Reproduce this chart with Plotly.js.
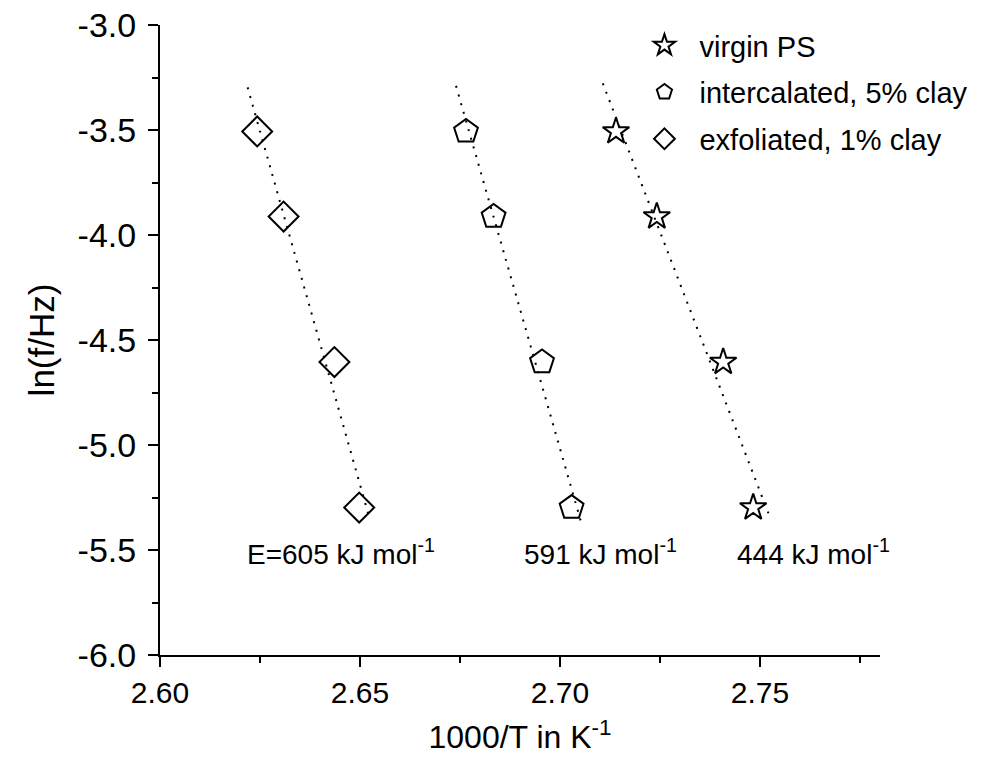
<!DOCTYPE html>
<html>
<head>
<meta charset="utf-8">
<script src="https://cdn.plot.ly/plotly-3.0.1.min.js"></script>
<style>html,body{margin:0;padding:0;background:#fff;}#chart{width:995px;height:769px;}</style>
</head>
<body>
<div id="chart"></div>
<script>
// Data
const lnF = [-3.507, -3.912, -4.605, -5.298];          // ln(f/Hz), f = 0.03, 0.02, 0.01, 0.005 Hz
const xVirgin = [2.7140, 2.7242, 2.7408, 2.7483];      // virgin PS
const xInter  = [2.6765, 2.6834, 2.6955, 2.7029];      // intercalated, 5% clay
const xExfol  = [2.6243, 2.6309, 2.6436, 2.6498];      // exfoliated, 1% clay

// Fit line end points
const fitVirginX = [2.7107, 2.7521], fitVirginY = [-3.278, -5.325];
const fitInterX  = [2.6740, 2.7056], fitInterY  = [-3.290, -5.389];
const fitExfolX  = [2.6219, 2.6525], fitExfolY  = [-3.297, -5.357];

const seriesNames = ['virgin PS', 'intercalated, 5% clay', 'exfoliated, 1% clay'];
const energyLabels = ['E=605 kJ mol<sup>-1</sup>', '591 kJ mol<sup>-1</sup>', '444 kJ mol<sup>-1</sup>'];
const energyX = [2.6213, 2.6905, 2.7438];
const energyY = [-5.51, -5.51, -5.51];

const yTickVals = [-3.0, -3.5, -4.0, -4.5, -5.0, -5.5, -6.0];
const yTickText = ['-3.0', '-3.5', '-4.0', '-4.5', '-5.0', '-5.5', '-6.0'];
const xTickVals = [2.60, 2.65, 2.70, 2.75];
const xTickText = ['2.60', '2.65', '2.70', '2.75'];

const FONT = 'Liberation Sans, Arial, Helvetica, sans-serif';
const dotLine = {color: 'black', width: 2, dash: '2px,7px'};

function fit(x, y) {
  return {x: x, y: y, type: 'scatter', mode: 'lines', line: dotLine, showlegend: false, hoverinfo: 'skip'};
}
function pts(x, name, symbol, size, group) {
  return {x: x, y: lnF, type: 'scatter', mode: 'markers', name: name, legendgroup: group,
          marker: {symbol: symbol, size: size, color: 'black', line: {color: 'black', width: 2}}};
}

const data = [
  fit(fitVirginX, fitVirginY),
  fit(fitInterX, fitInterY),
  fit(fitExfolX, fitExfolY),
  pts(xVirgin, seriesNames[0], 'star-open', 20, 'a'),
  pts(xInter, seriesNames[1], 'pentagon-open', 25, 'b'),
  pts(xExfol, seriesNames[2], 'diamond-open', 23, 'c')
];

const layout = {
  width: 995, height: 769,
  margin: {l: 160, r: 115, t: 25, b: 114},
  paper_bgcolor: 'white', plot_bgcolor: 'white',
  font: {family: FONT, color: 'black', size: 30},
  showlegend: true,
  legend: {x: 0.652, y: 1.008, xanchor: 'left', yanchor: 'top', bgcolor: 'rgba(0,0,0,0)',
           font: {size: 29, family: FONT}, itemwidth: 60, tracegroupgap: 6, itemsizing: 'trace'},
  xaxis: {range: [2.6, 2.78], showgrid: false, zeroline: false, showline: true, linecolor: 'black', linewidth: 2,
          ticks: 'outside', ticklen: 10, tickwidth: 2, tickcolor: 'black',
          tickvals: xTickVals, ticktext: xTickText, tickfont: {size: 30},
          minor: {dtick: 0.025, tick0: 2.6, ticks: 'outside', ticklen: 6, tickwidth: 2, tickcolor: 'black', showgrid: false},
          title: {text: '1000/T in K<sup>-1</sup>', font: {size: 32}, standoff: 18}},
  yaxis: {range: [-6, -3], showgrid: false, zeroline: false, showline: true, linecolor: 'black', linewidth: 2,
          ticks: 'outside', ticklen: 10, tickwidth: 2, tickcolor: 'black', ticklabelstandoff: 5,
          tickvals: yTickVals, ticktext: yTickText, tickfont: {size: 34},
          minor: {dtick: 0.25, tick0: -6, ticks: 'outside', ticklen: 6, tickwidth: 2, tickcolor: 'black', showgrid: false},
          title: {text: 'ln(f/Hz)', font: {size: 35}, standoff: 12}},
  annotations: energyLabels.map((t, i) => ({x: energyX[i], y: energyY[i], xref: 'x', yref: 'y', text: t,
          showarrow: false, xanchor: 'left', yanchor: 'middle', font: {size: 28, family: FONT}}))
};

Plotly.newPlot('chart', data, layout, {displayModeBar: false, staticPlot: true});
</script>
</body>
</html>
